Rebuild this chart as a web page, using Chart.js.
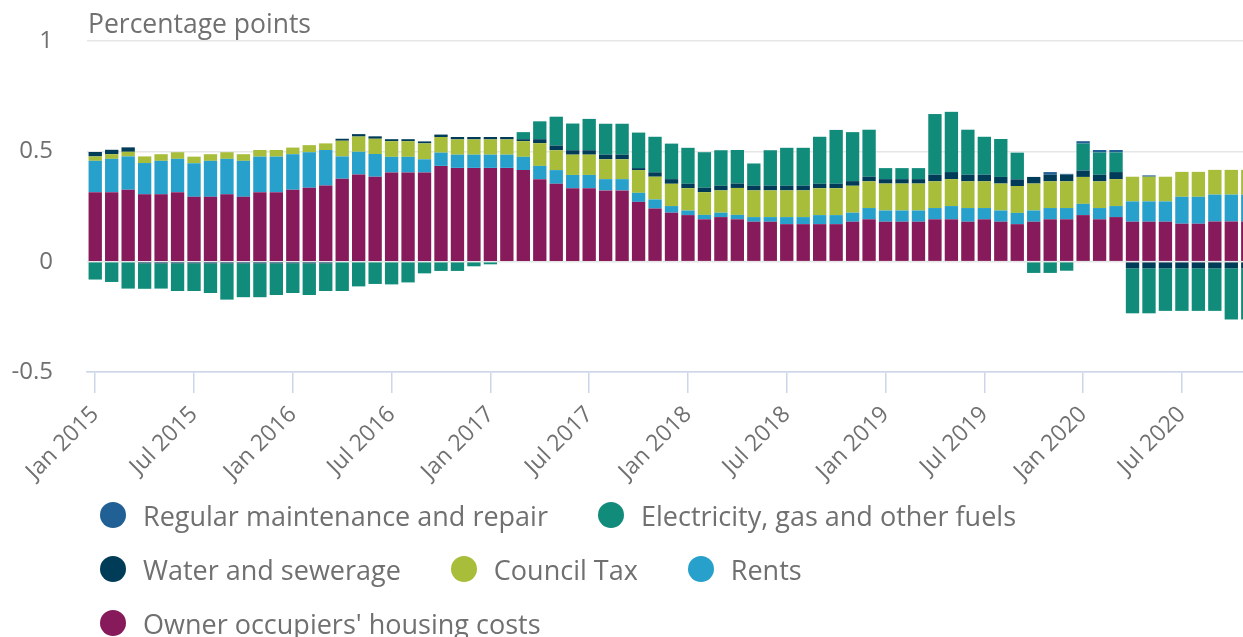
<!DOCTYPE html>
<html>
<head>
<meta charset="utf-8">
<title>Housing components contribution</title>
<script src="https://cdn.jsdelivr.net/npm/chart.js@4.4.1/dist/chart.umd.min.js"></script>
<style>
  html, body { margin: 0; padding: 0; background: #fff; overflow: hidden; }
  body { width: 1243px; height: 637px; position: relative; font-family: 'Open Sans', sans-serif; }
  #wrap { position: absolute; left: 0; top: 0; width: 1256px; height: 500px; }
  #title { position: absolute; left: 88px; top: 10px; font-size: 26.5px; line-height: 1; color: #707070; white-space: nowrap; }
  #legend { position: absolute; left: 100px; top: 488px; width: 1143px; display: flex; flex-wrap: wrap; column-gap: 50px; }
  .item { display: flex; align-items: center; height: 54px; font-size: 27px; color: #707070; white-space: nowrap; }
  .dot { width: 26px; height: 26px; border-radius: 50%; margin-right: 17px; flex: none; }
</style>
</head>
<body>
<div id="wrap"><canvas id="chart" width="1256" height="500"></canvas></div>
<div id="title">Percentage points</div>
<div id="legend"></div>
<script>
// months Jan 2015 .. Nov 2020 (last bar is cut at the right edge)
const months = [
  'Jan 2015','Feb 2015','Mar 2015','Apr 2015','May 2015','Jun 2015','Jul 2015','Aug 2015','Sep 2015','Oct 2015','Nov 2015','Dec 2015',
  'Jan 2016','Feb 2016','Mar 2016','Apr 2016','May 2016','Jun 2016','Jul 2016','Aug 2016','Sep 2016','Oct 2016','Nov 2016','Dec 2016',
  'Jan 2017','Feb 2017','Mar 2017','Apr 2017','May 2017','Jun 2017','Jul 2017','Aug 2017','Sep 2017','Oct 2017','Nov 2017','Dec 2017',
  'Jan 2018','Feb 2018','Mar 2018','Apr 2018','May 2018','Jun 2018','Jul 2018','Aug 2018','Sep 2018','Oct 2018','Nov 2018','Dec 2018',
  'Jan 2019','Feb 2019','Mar 2019','Apr 2019','May 2019','Jun 2019','Jul 2019','Aug 2019','Sep 2019','Oct 2019','Nov 2019','Dec 2019',
  'Jan 2020','Feb 2020','Mar 2020','Apr 2020','May 2020','Jun 2020','Jul 2020','Aug 2020','Sep 2020','Oct 2020','Nov 2020'
];
const tickLabels = ['Jan 2015','Jul 2015','Jan 2016','Jul 2016','Jan 2017','Jul 2017','Jan 2018','Jul 2018','Jan 2019','Jul 2019','Jan 2020','Jul 2020'];
const yTicks = [-0.5, 0, 0.5, 1];

const ownerOccupiers = [
  .315,.315,.326,.305,.305,.315,.294,.294,.305,.294,.315,.315,
  .326,.335,.345,.376,.395,.385,.404,.404,.404,.434,.425,.425,
  .425,.425,.415,.374,.353,.333,.333,.323,.323,.271,.241,.222,
  .211,.192,.202,.192,.181,.181,.170,.170,.170,.170,.181,.192,
  .181,.181,.181,.192,.192,.181,.192,.181,.170,.181,.192,.192,
  .211,.192,.202,.181,.181,.181,.172,.172,.182,.182,.182
];
const rents = [
  .142,.151,.151,.142,.152,.151,.152,.163,.161,.163,.161,.161,
  .161,.161,.161,.101,.103,.103,.071,.071,.060,.060,.060,.060,
  .060,.060,.060,.060,.062,.060,.060,.051,.051,.041,.041,.030,
  .021,.020,.020,.020,.021,.021,.032,.032,.041,.041,.041,.051,
  .051,.051,.051,.051,.060,.062,.051,.051,.051,.051,.051,.051,
  .051,.051,.050,.092,.092,.092,.122,.122,.122,.122,.122
];
const councilTax = [
  .020,.021,.021,.030,.030,.030,.030,.030,.030,.030,.030,.030,
  .030,.032,.030,.071,.069,.069,.071,.071,.072,.071,.069,.069,
  .069,.069,.071,.103,.090,.092,.092,.090,.090,.103,.103,.101,
  .101,.103,.101,.122,.121,.121,.121,.121,.122,.122,.122,.121,
  .122,.122,.122,.121,.122,.121,.121,.122,.122,.122,.121,.121,
  .122,.121,.122,.112,.112,.112,.113,.113,.112,.112,.112
];
const water = [
  .020,.020,.020,-.008,-.008,-.008,-.008,-.008,-.008,-.008,-.008,-.008,
  -.008,-.008,-.008,.009,.011,.011,.009,.009,.009,.011,.011,.011,
  .011,.011,.009,.018,.021,.020,.020,.021,.021,.009,.020,.021,
  .020,.020,.021,.020,.021,.021,.021,.021,.020,.020,.021,.021,
  .020,.020,.020,.030,.032,.030,.030,.030,.030,.030,.030,.030,
  .029,.030,.032,-.030,-.030,-.030,-.030,-.030,-.030,-.030,-.030
];
const electricity = [
  -.081,-.092,-.122,-.115,-.114,-.125,-.125,-.134,-.164,-.153,-.153,-.143,
  -.134,-.143,-.125,-.133,-.112,-.101,-.103,-.094,-.053,-.042,-.042,-.021,
  -.012,0,.032,.081,.131,.121,.142,.140,.140,.161,.161,.161,
  .163,.161,.161,.152,.101,.161,.172,.172,.213,.244,.222,.213,
  .050,.050,.050,.275,.273,.204,.172,.172,.121,-.051,-.051,-.041,
  .122,.101,.089,-.204,-.204,-.193,-.193,-.193,-.193,-.232,-.232
];
const maintenance = [
  0,0,0,0,0,0,0,0,0,0,0,0,
  0,0,0,0,0,0,0,0,0,0,0,0,
  0,0,0,0,0,0,0,0,0,0,0,0,
  0,0,0,0,0,0,0,0,0,0,0,0,
  0,0,0,0,0,0,0,0,0,0,.012,.004,
  .011,.011,.011,0,.006,0,0,0,0,0,0
];

const FONT = "'Open Sans', sans-serif";
const TEXT = '#707070';

// stacking order from zero outwards; legend lists them the other way round
const series = [
  { label: "Owner occupiers' housing costs", data: ownerOccupiers, color: '#871A5B' },
  { label: 'Rents', data: rents, color: '#27A0CC' },
  { label: 'Council Tax', data: councilTax, color: '#A8BD3A' },
  { label: 'Water and sewerage', data: water, color: '#003C57' },
  { label: 'Electricity, gas and other fuels', data: electricity, color: '#118C7B' },
  { label: 'Regular maintenance and repair', data: maintenance, color: '#206095' }
];

const ctx = document.getElementById('chart').getContext('2d');
new Chart(ctx, {
  type: 'bar',
  data: {
    labels: months,
    datasets: series.map(s => ({
      label: s.label,
      data: s.data,
      backgroundColor: s.color,
      borderWidth: 0,
      barPercentage: 0.81,
      categoryPercentage: 1
    }))
  },
  options: {
    responsive: false,
    animation: false,
    layout: { padding: { top: 41, left: 0, right: 0, bottom: 0 } },
    plugins: { legend: { display: false }, tooltip: { enabled: false } },
    scales: {
      x: {
        stacked: true,
        grid: { offset: false, drawOnChartArea: false, drawTicks: true, tickLength: 21, color: '#ccd6eb', lineWidth: 1.5 },
        border: { color: '#ccd6eb', width: 1.5 },
        ticks: {
          autoSkip: false, maxRotation: 45, minRotation: 45, padding: 8,
          color: TEXT, font: { family: FONT, size: 23 },
          callback: function (v) {
            const lab = this.getLabelForValue(v);
            return tickLabels.includes(lab) ? lab : null;
          }
        },
        afterFit: s => { s.height = 128; }
      },
      y: {
        stacked: true,
        min: yTicks[0], max: yTicks[yTicks.length - 1],
        afterBuildTicks: s => { s.ticks = yTicks.map(v => ({ value: v })); },
        grid: { color: '#e6e6e6', lineWidth: 1.5, drawTicks: false },
        border: { display: false },
        ticks: { padding: 34, color: TEXT, font: { family: FONT, size: 24 }, callback: v => String(v) },
        afterFit: s => { s.width = 87; s.paddingTop = 0; s.paddingBottom = 0; }
      }
    }
  }
});

// legend
const legend = document.getElementById('legend');
series.slice().reverse().forEach(s => {
  const item = document.createElement('div');
  item.className = 'item';
  const dot = document.createElement('span');
  dot.className = 'dot';
  dot.style.background = s.color;
  item.appendChild(dot);
  item.appendChild(document.createTextNode(s.label));
  legend.appendChild(item);
});
</script>
</body>
</html>
